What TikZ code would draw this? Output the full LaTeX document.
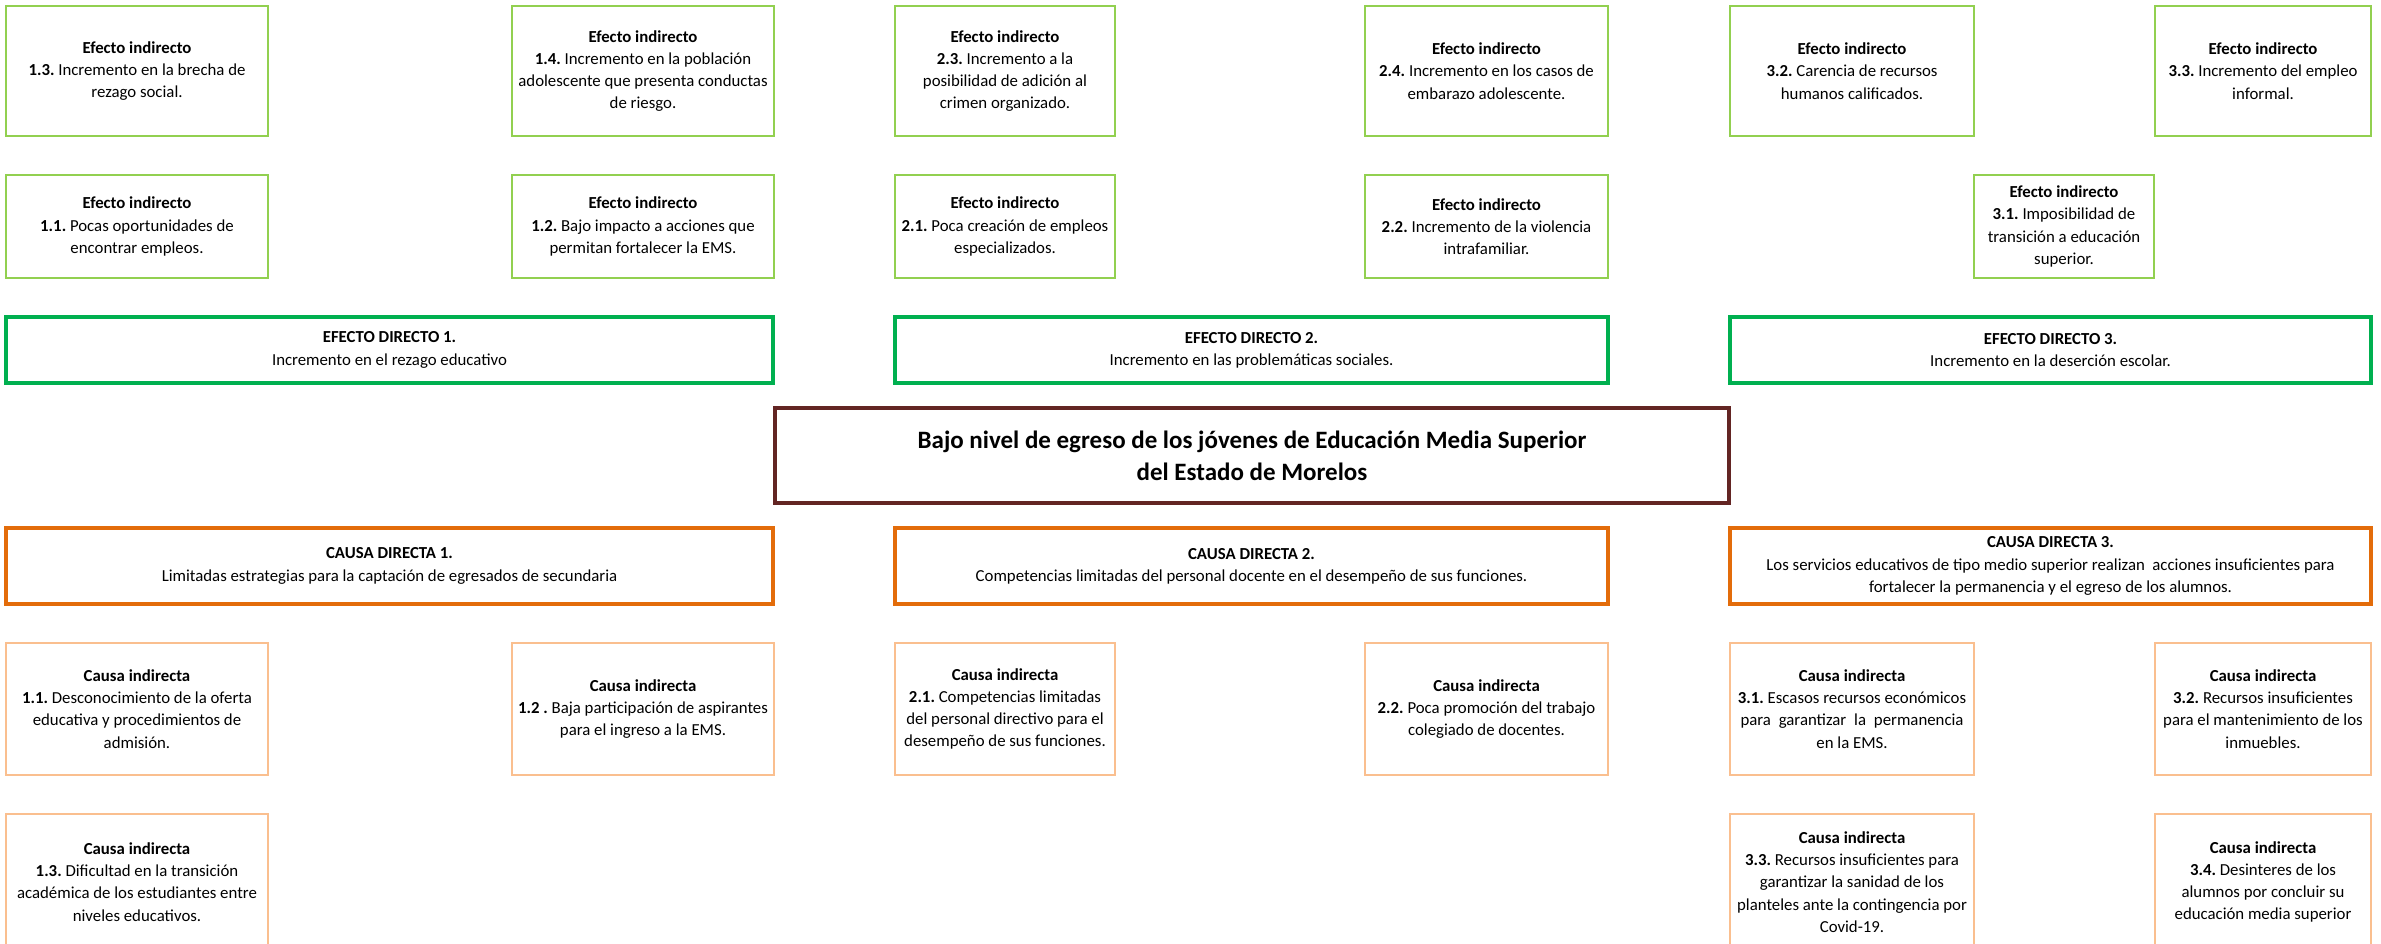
\documentclass[tikz,border=0pt]{standalone}
\usepackage{fontspec}
\setmainfont{Carlito}
\frenchspacing
\definecolor{lgreen}{HTML}{92D050}
\definecolor{dgreen}{HTML}{00B050}
\definecolor{maroon}{HTML}{632523}
\definecolor{dorange}{HTML}{E36C0A}
\definecolor{lorange}{HTML}{FABF8F}
\tikzset{
  base/.style={draw, rectangle, inner sep=0pt, align=center, font=\fontsize{16.8}{22.2}\selectfont},
  efind/.style={base, draw=lgreen, line width=2.5pt},
  efdir/.style={base, draw=dgreen, line width=3.5pt},
  prob/.style={base, draw=maroon, line width=4pt, font=\fontsize{25}{32}\selectfont\bfseries},
  cadir/.style={base, draw=dorange, line width=3.5pt},
  caind/.style={base, draw=lorange, line width=2.5pt}
}
\newcommand\mybox[7]{%
  \node[#6, minimum width={(#4-#2)*1pt}, minimum height={(#5-#3)*1pt}] (#1) at ({(#2+#4)/2},{(#3+#5)/2}) {#7};}
\begin{document}
\begin{tikzpicture}[x=1pt,y=-1pt]
\useasboundingbox (0,0) rectangle (2381,944);
% Efectos indirectos, fila superior
\mybox{e13}{6}{6}{268}{136}{efind}{\textbf{Efecto indirecto}\\\textbf{1.3.} Incremento en la brecha de\\rezago social.}
\mybox{e14}{512}{6}{774}{136}{efind}{\textbf{Efecto indirecto}\\\textbf{1.4.} Incremento en la población\\adolescente que presenta conductas\\de riesgo.}
\mybox{e23}{895}{6}{1115}{136}{efind}{\textbf{Efecto indirecto}\\\textbf{2.3.} Incremento a la\\posibilidad de adición al\\crimen organizado.}
\mybox{e24}{1365}{6}{1608}{136}{efind}{\textbf{Efecto indirecto}\\\textbf{2.4.} Incremento en los casos de\\embarazo adolescente.}
\mybox{e32}{1730}{6}{1974}{136}{efind}{\textbf{Efecto indirecto}\\\textbf{3.2.} Carencia de recursos\\humanos calificados.}
\mybox{e33}{2155}{6}{2371}{136}{efind}{\textbf{Efecto indirecto}\\\textbf{3.3.} Incremento del empleo\\informal.}
% Efectos indirectos, segunda fila
\mybox{e11}{6}{175}{268}{278}{efind}{\textbf{Efecto indirecto}\\\textbf{1.1.} Pocas oportunidades de\\encontrar empleos.}
\mybox{e12}{512}{175}{774}{278}{efind}{\textbf{Efecto indirecto}\\\textbf{1.2.} Bajo impacto a acciones que\\permitan fortalecer la EMS.}
\mybox{e21}{895}{175}{1115}{278}{efind}{\textbf{Efecto indirecto}\\\textbf{2.1.} Poca creación de empleos\\especializados.}
\mybox{e22}{1365}{175}{1608}{278}{efind}{\textbf{Efecto indirecto}\\\textbf{2.2.} Incremento de la violencia\\intrafamiliar.}
\mybox{e31}{1974}{175}{2154}{278}{efind}{\textbf{Efecto indirecto}\\\textbf{3.1.} Imposibilidad de\\transición a educación\\superior.}
% Efectos directos
\mybox{ed1}{6}{317}{773}{383}{efdir}{\textbf{EFECTO DIRECTO 1.}\\Incremento en el rezago educativo}
\mybox{ed2}{895}{317}{1608}{383}{efdir}{\textbf{EFECTO DIRECTO 2.}\\Incremento en las problemáticas sociales.}
\mybox{ed3}{1730}{317}{2371}{383}{efdir}{\textbf{EFECTO DIRECTO 3.}\\Incremento en la deserción escolar.}
% Problema central
\mybox{prob}{775}{408}{1729}{503}{prob}{Bajo nivel de egreso de los jóvenes de Educación Media Superior\\del Estado de Morelos}
% Causas directas
\mybox{cd1}{6}{528}{773}{604}{cadir}{\textbf{CAUSA DIRECTA 1.}\\Limitadas estrategias para la captación de egresados de secundaria}
\mybox{cd2}{895}{528}{1608}{604}{cadir}{\textbf{CAUSA DIRECTA 2.}\\Competencias limitadas del personal docente en el desempeño de sus funciones.}
\mybox{cd3}{1730}{528}{2371}{604}{cadir}{\textbf{CAUSA DIRECTA 3.}\\Los servicios educativos de tipo medio superior realizan~ acciones insuficientes para\\fortalecer la permanencia y el egreso de los alumnos.}
% Causas indirectas, primera fila
\mybox{c11}{6}{643}{268}{775}{caind}{\textbf{Causa indirecta}\\\textbf{1.1.} Desconocimiento de la oferta\\educativa y procedimientos de\\admisión.}
\mybox{c12}{512}{643}{774}{775}{caind}{\textbf{Causa indirecta}\\\textbf{1.2 .} Baja participación de aspirantes\\para el ingreso a la EMS.}
\mybox{c21}{895}{643}{1115}{775}{caind}{\textbf{Causa indirecta}\\\textbf{2.1.} Competencias limitadas\\del personal directivo para el\\desempeño de sus funciones.}
\mybox{c22}{1365}{643}{1608}{775}{caind}{\textbf{Causa indirecta}\\\textbf{2.2.} Poca promoción del trabajo\\colegiado de docentes.}
\mybox{c31}{1730}{643}{1974}{775}{caind}{\textbf{Causa indirecta}\\\textbf{3.1.} Escasos recursos económicos\\\makebox[223pt][s]{para garantizar la permanencia}\\en la EMS.}
\mybox{c32}{2155}{643}{2371}{775}{caind}{\textbf{Causa indirecta}\\\textbf{3.2.} Recursos insuficientes\\para el mantenimiento de los\\inmuebles.}
% Causas indirectas, segunda fila
\mybox{c13}{6}{814}{268}{950}{caind}{\textbf{Causa indirecta}\\\textbf{1.3.} Dificultad en la transición\\académica de los estudiantes entre\\niveles educativos.}
\mybox{c33}{1730}{814}{1974}{950}{caind}{\textbf{Causa indirecta}\\\textbf{3.3.} Recursos insuficientes para\\garantizar la sanidad de los\\planteles ante la contingencia por\\Covid-19.}
\mybox{c34}{2155}{814}{2371}{950}{caind}{\textbf{Causa indirecta}\\\textbf{3.4.} Desinteres de los\\alumnos por concluir su\\educación media superior}
\end{tikzpicture}
\end{document}
